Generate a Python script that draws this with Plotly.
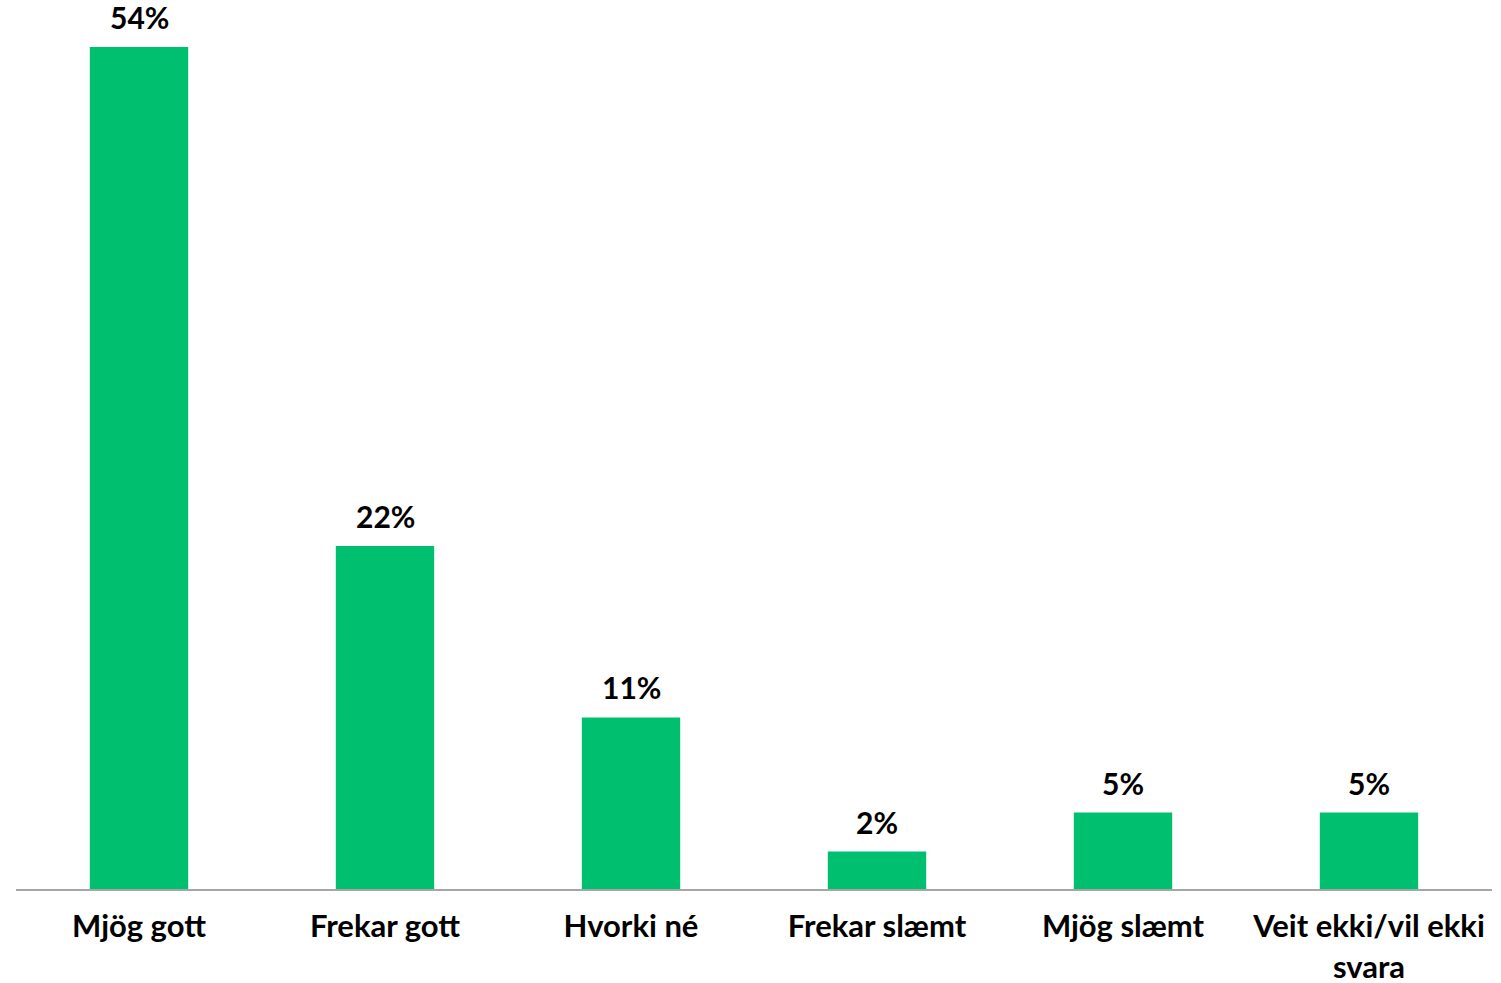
import plotly.graph_objects as go

categories = ["Mjög gott", "Frekar gott", "Hvorki né", "Frekar slæmt", "Mjög slæmt", "Veit ekki/vil ekki<br>svara"]
values = [54.0, 22.0, 11.0, 2.4, 4.9, 4.9]
labels = ["54%", "22%", "11%", "2%", "5%", "5%"]

FONT = "Lato"
fig = go.Figure()
fig.add_trace(go.Bar(
    x=categories, y=values,
    marker=dict(color="#00C070", line=dict(width=0)),
    width=0.4,
    hoverinfo="skip",
))
for c, v, t in zip(categories, values, labels):
    fig.add_annotation(x=c, y=v, text="<b>%s</b>" % t, showarrow=False,
                       yanchor="bottom", yshift=10,
                       font=dict(family=FONT, size=30, color="#000000"))

fig.update_layout(
    width=1501, height=983,
    margin=dict(l=16, r=9, t=8, b=94, autoexpand=False),
    paper_bgcolor="white", plot_bgcolor="white",
    showlegend=False,
    bargap=0.6,
)
fig.update_xaxes(
    automargin=False,
    showline=True, linecolor="#a6a6a6", linewidth=2,
    showgrid=False, zeroline=False, ticks="",
    tickfont=dict(family=FONT, size=31, color="#000000"),
    ticklabelstandoff=9,
    tickvals=categories,
    ticktext=["<b>%s</b>" % c for c in categories],
)
fig.update_yaxes(range=[0, 56.5], visible=False, showgrid=False, zeroline=False, automargin=False)
fig.write_html("out.html",
               config={"displayModeBar": False},
               post_script="document.body.style.margin='0';document.body.style.overflow='hidden';")
